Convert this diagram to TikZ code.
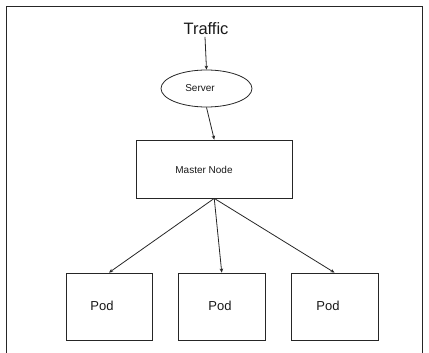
\documentclass[tikz,border=0pt]{standalone}
\usepackage{fontspec}
\setmainfont{Liberation Sans}
\usetikzlibrary{arrows.meta,shapes.geometric}
\begin{document}
\begin{tikzpicture}[x=1pt,y=-1pt,
  line/.style={draw=black!85,line width=0.8pt},
  conn/.style={line,-{Stealth[length=4pt,width=3.5pt]},shorten >=0pt},
  box/.style={line,rectangle,inner sep=0pt},
  lbl/.style={inner sep=0pt,text=black!90}]
\useasboundingbox (0,0) rectangle (429,353);
\draw[line] (6.5,360) -- (6.5,6.5) -- (422,6.5) -- (422,360);
\node[lbl,font=\fontsize{16.5}{18}\selectfont] (traffic) at (206,29) {Traffic};
\node[line,ellipse,minimum width=91pt,minimum height=37pt,inner sep=0pt] (server) at (206.5,88.5) {};
\node[lbl,font=\fontsize{10}{12}\selectfont] (servert) at (200,88) {Server};
\node[box,minimum width=155.5pt,minimum height=58pt] (master) at (214.25,169) {};
\node[lbl,font=\fontsize{10}{12}\selectfont] (mastert) at (204,170) {Master Node};
\node[box,minimum width=86pt,minimum height=67pt] (pod1) at (109,306.5) {};
\node[box,minimum width=86.5pt,minimum height=67pt] (pod2) at (221.75,306.5) {};
\node[box,minimum width=87pt,minimum height=67pt] (pod3) at (334.5,306.5) {};
\node[lbl,font=\fontsize{13}{15}\selectfont] (pod1t) at (102,306) {Pod};
\node[lbl,font=\fontsize{13}{15}\selectfont] (pod2t) at (220,306) {Pod};
\node[lbl,font=\fontsize{13}{15}\selectfont] (pod3t) at (328,306) {Pod};
\draw[conn] ([xshift=-1pt,yshift=-2pt]traffic.base) -- (server.north);
\draw[conn] (server.south) -- (master.north);
\draw[conn] (master.south) -- (pod1.north);
\draw[conn] (master.south) -- (pod2.north);
\draw[conn] (master.south) -- (pod3.north);
\end{tikzpicture}
\end{document}
